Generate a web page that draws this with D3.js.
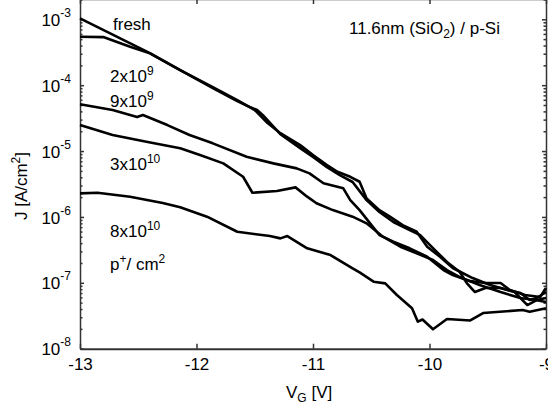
<!DOCTYPE html>
<html><head><meta charset="utf-8">
<script src="https://cdn.jsdelivr.net/npm/d3@7"></script>
<style>body{margin:0;background:#fff;}svg{display:block;font-family:"Liberation Sans",Arial,sans-serif;}</style>
</head><body><svg id="c" width="548" height="408"></svg>
<script>
// Data: gate voltage V_G [V] and current density J [A/cm^2]
const freshV = [-13.0,-12.40,-12.14,-11.86,-11.65,-11.54,-11.50,-11.39,-11.28,-11.11,-11.0,-10.88,-10.79,-10.68,-10.60,-10.54,-10.43,-10.34,-10.23,-10.11,-10.02,-9.91,-9.80,-9.63,-9.48,-9.33,-9.22,-9.14,-9.08,-9.0];
const freshJ = [1.03e-3,3.07e-4,1.69e-4,9.35e-5,5.94e-5,4.6e-5,4.2e-5,2.66e-5,1.87e-5,1.23e-5,8.69e-6,6.14e-6,4.85e-6,4.07e-6,3.42e-6,1.91e-6,1.27e-6,1.01e-6,7.53e-7,5.96e-7,3.53e-7,2.49e-7,1.68e-7,1.18e-7,9.27e-8,7.78e-8,7.0e-8,5.48e-8,5.88e-8,7.25e-8];

const d2e9V = [-13.0,-12.80,-12.57,-12.40,-12.14,-11.86,-11.65,-11.57,-11.48,-11.43,-11.28,-11.11,-11.0,-10.88,-10.77,-10.66,-10.54,-10.43,-10.31,-10.17,-10.08,-9.97,-9.85,-9.74,-9.68,-9.61,-9.52,-9.39,-9.27,-9.16,-9.08,-9.0];
const d2e9J = [5.42e-4,5.37e-4,3.83e-4,3.04e-4,1.69e-4,9.04e-5,5.74e-5,4.9e-5,4.2e-5,3.5e-5,1.81e-5,1.11e-5,8.11e-6,5.71e-6,4.32e-6,3.39e-6,1.80e-6,1.19e-6,8.37e-7,6.32e-7,5.31e-7,3.37e-7,2.07e-7,1.46e-7,9.93e-8,7.25e-8,8.34e-8,8.34e-8,7.25e-8,4.60e-8,5.48e-8,5.88e-8];

const d9e9V = [-13.0,-12.72,-12.51,-12.46,-12.25,-12.06,-11.86,-11.57,-11.34,-11.14,-11.03,-10.91,-10.74,-10.68,-10.60,-10.51,-10.43,-10.31,-10.17,-10.02,-9.88,-9.80,-9.65,-9.52,-9.39,-9.31,-9.18,-9.05,-9.0];
const d9e9J = [5.12e-5,4.19e-5,3.28e-5,3.52e-5,2.48e-5,1.75e-5,1.31e-5,8.19e-6,6.50e-6,5.46e-6,4.59e-6,3.24e-6,2.72e-6,1.80e-6,1.27e-6,8.0e-7,5.31e-7,4.21e-7,3.34e-7,2.49e-7,1.56e-7,1.31e-7,1.06e-7,9.93e-8,9.93e-8,7.78e-8,6.53e-8,6.09e-8,8.34e-8];

const d3e10V = [-13.0,-12.72,-12.43,-12.14,-11.97,-11.77,-11.60,-11.52,-11.31,-11.15,-11.05,-10.97,-10.83,-10.66,-10.54,-10.40,-10.25,-10.11,-9.97,-9.85,-9.74,-9.57,-9.39,-9.22,-9.09,-9.0];
const d3e10J = [2.48e-5,1.75e-5,1.38e-5,1.10e-5,8.69e-6,6.50e-6,4.07e-6,2.33e-6,2.47e-6,2.81e-6,2.03e-6,1.61e-6,1.27e-6,1.01e-6,8.0e-7,5.01e-7,3.53e-7,2.80e-7,2.22e-7,1.56e-7,1.22e-7,9.27e-8,7.25e-8,5.88e-8,5.48e-8,5.11e-8];

const d8e10V = [-13.0,-12.85,-12.57,-12.29,-12.14,-11.91,-11.65,-11.37,-11.28,-11.22,-11.05,-10.85,-10.66,-10.60,-10.48,-10.38,-10.28,-10.15,-10.10,-10.06,-9.97,-9.85,-9.65,-9.54,-9.20,-9.14,-9.0];
const d8e10J = [2.28e-6,2.33e-6,2.03e-6,1.63e-6,1.40e-6,1.01e-6,5.96e-7,5.13e-7,4.73e-7,5.13e-7,3.34e-7,2.64e-7,1.66e-7,1.44e-7,1.04e-7,9.82e-8,6.53e-8,4.10e-8,2.57e-8,2.77e-8,1.97e-8,2.82e-8,2.68e-8,3.48e-8,3.87e-8,3.64e-8,4.10e-8];

const xTicks = [-13,-12,-11,-10,-9];
const yTicks = [1e-8,1e-7,1e-6,1e-5,1e-4,1e-3];
const yExp = ["-8","-7","-6","-5","-4","-3"];

const series = [[freshV,freshJ],[d2e9V,d2e9J],[d9e9V,d9e9J],[d3e10V,d3e10J],[d8e10V,d8e10J]];

const svg = d3.select("#c");
const L=80, R=546, B=348.7, T=-1;
const FS=17, SS=12;
const x = d3.scaleLinear().domain([-13,-9]).range([L,R]);
const y = d3.scaleLog().domain([1e-8,1e-3]).range([B,19.3]);
const yTop = y.invert(T);
y.domain([1e-8,yTop]).range([B,T]);

const minors = [];
for (let e=-8;e<=-3;e++) for (let m=2;m<=9;m++){const v=m*Math.pow(10,e); if(v<yTop) minors.push(v);}

const axCol="#333";
function style(g){g.selectAll("path,line").attr("stroke",axCol).attr("stroke-width",1.5);}

// bottom
const gb = svg.append("g").attr("transform",`translate(0,${B})`)
  .call(d3.axisBottom(x).tickValues(xTicks).tickSize(-5).tickSizeOuter(0).tickPadding(9).tickFormat(d=>d3.format("d")(d).replace("−","-")));
style(gb); gb.select(".domain").attr("stroke-width",2);
gb.selectAll("text").attr("font-size",FS).attr("fill","#000").attr("font-family","Liberation Sans, Arial, sans-serif");
// top
const gt = svg.append("g").attr("transform",`translate(0,${T})`)
  .call(d3.axisTop(x).tickValues(xTicks).tickSize(-5).tickSizeOuter(0).tickFormat(""));
style(gt);
// left
const gl = svg.append("g").attr("transform",`translate(${L},0)`)
  .call(d3.axisLeft(y).tickValues(yTicks).tickSize(-4).tickSizeOuter(0).tickPadding(9).tickFormat(""));
style(gl);
gl.selectAll(".tick text").each(function(d,i){
  const t=d3.select(this).attr("font-size",FS).attr("fill","#000").attr("font-family","Liberation Sans, Arial, sans-serif").attr("dy","0.36em");
  t.append("tspan").text("10");
  t.append("tspan").attr("font-size",SS).attr("dy","-0.75em").text(yExp[i]);
});
const glm = svg.append("g").attr("transform",`translate(${L},0)`)
  .call(d3.axisLeft(y).tickValues(minors).tickSize(-2.5).tickSizeOuter(0).tickFormat(""));
style(glm); glm.select(".domain").remove();
// right
const gr = svg.append("g").attr("transform",`translate(${R},0)`)
  .call(d3.axisRight(y).tickValues(yTicks).tickSize(-4).tickSizeOuter(0).tickFormat(""));
style(gr);
const grm = svg.append("g").attr("transform",`translate(${R},0)`)
  .call(d3.axisRight(y).tickValues(minors).tickSize(-2.5).tickSizeOuter(0).tickFormat(""));
style(grm); grm.select(".domain").remove();

// curves
const line = d3.line().x(d=>x(d[0])).y(d=>y(d[1]));
series.forEach(([vs,js])=>{
  svg.append("path").datum(vs.map((v,i)=>[v,js[i]])).attr("d",line)
    .attr("fill","none").attr("stroke","#000").attr("stroke-width",2.6).attr("stroke-linejoin","round");
});

// text
function txt(xp,yp,parts,anchor){
  const t=svg.append("text").attr("x",xp).attr("y",yp).attr("font-size",FS).attr("fill","#000").attr("text-anchor",anchor||"start");
  parts.forEach(p=>{const s=t.append("tspan").text(p.t); if(p.sup){s.attr("font-size",SS).attr("dy",-7);} if(p.sub){s.attr("font-size",SS).attr("dy",4);} if(p.back){s.attr("dy",p.back);} });
  return t;
}
txt(113,30,[{t:"fresh"}]);
txt(349,34,[{t:"11.6nm (SiO"},{t:"2",sub:true},{t:") / p-Si",back:-4}]);
txt(110,82,[{t:"2x10"},{t:"9",sup:true}]);
txt(110,107,[{t:"9x10"},{t:"9",sup:true}]);
txt(110,170,[{t:"3x10"},{t:"10",sup:true}]);
txt(110,237,[{t:"8x10"},{t:"10",sup:true}]);
txt(110,270,[{t:"p"},{t:"+",sup:true},{t:"/ cm",back:7},{t:"2",sup:true}]);
txt(286,398,[{t:"V"},{t:"G",sub:true},{t:" [V]",back:-4}]);
svg.append("text").attr("transform","translate(27,186) rotate(-90)").attr("text-anchor","middle").attr("font-size",FS).attr("fill","#000")
  .call(t=>{t.append("tspan").text("J [A/cm"); t.append("tspan").attr("font-size",SS).attr("dy",-7).text("2"); t.append("tspan").attr("dy",7).text("]");});
</script></body></html>
